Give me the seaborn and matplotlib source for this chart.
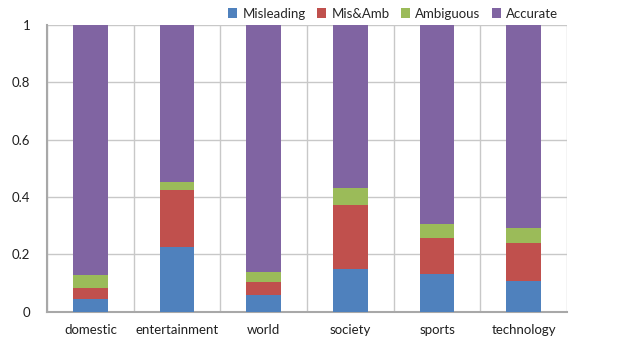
import matplotlib
matplotlib.use("Agg")
import matplotlib.pyplot as plt
from matplotlib.patches import Patch
import numpy as np
import seaborn as sns

categories = ["domestic", "entertainment", "world", "society", "sports", "technology"]
misleading = [0.043, 0.224, 0.058, 0.148, 0.131, 0.108]
mis_amb = [0.041, 0.200, 0.047, 0.225, 0.126, 0.133]
ambiguous = [0.044, 0.027, 0.033, 0.058, 0.050, 0.051]
accurate = [0.872, 0.549, 0.862, 0.569, 0.693, 0.708]

series_names = ["Misleading", "Mis&Amb", "Ambiguous", "Accurate"]
series_colors = ["#4F81BD", "#C0504D", "#9BBB59", "#8064A2"]
y_ticks = [0, 0.2, 0.4, 0.6, 0.8, 1]
y_tick_labels = ["0", "0.2", "0.4", "0.6", "0.8", "1"]

sns.set_theme(style="white")
plt.rcParams["font.family"] = ["Lato", "DejaVu Sans"]

fig = plt.figure(figsize=(6.2, 3.5), dpi=100)
ax = fig.add_axes([0.0758, 0.1094, 0.8387, 0.8192])

stack = np.cumsum(np.array([misleading, mis_amb, ambiguous, accurate]), axis=0)

# draw the tallest cumulative layer first so lower segments sit on top
for i in range(3, -1, -1):
    sns.barplot(x=categories, y=stack[i], color=series_colors[i], width=0.4,
                saturation=1, ax=ax, zorder=3, linewidth=0)

ax.set_ylim(0, 1)
ax.set_xlim(-0.5, len(categories) - 0.5)
ax.set_yticks(y_ticks)
ax.set_yticklabels(y_tick_labels)
ax.set_xticks(range(len(categories)))
ax.set_xticklabels(categories)
ax.set_xticks(np.arange(-0.5, len(categories), 1.0), minor=True)

ax.grid(axis="y", which="major", color="#c8c8c8", linewidth=1, zorder=0)
ax.grid(axis="x", which="minor", color="#c8c8c8", linewidth=1, zorder=0)
ax.grid(axis="x", which="major", visible=False)
ax.tick_params(axis="both", which="both", length=0, labelsize=9.5, colors="#202020")
ax.tick_params(axis="x", pad=9)
ax.tick_params(axis="y", pad=12)

for side in ["top", "right"]:
    ax.spines[side].set_visible(False)
for side in ["left", "bottom"]:
    ax.spines[side].set_color("#a8a8a8")
    ax.spines[side].set_linewidth(1.5)
ax.set_xlabel("")
ax.set_ylabel("")

handles = [Patch(facecolor=c, edgecolor="none", label=n)
           for n, c in zip(series_names, series_colors)]
fig.legend(handles=handles, loc="upper right", bbox_to_anchor=(0.92, 1.012),
           ncol=4, frameon=False, fontsize=9.5, handlelength=0.7,
           handleheight=0.7, handletextpad=0.4, columnspacing=0.85)

fig.savefig("out.png", dpi=100)
